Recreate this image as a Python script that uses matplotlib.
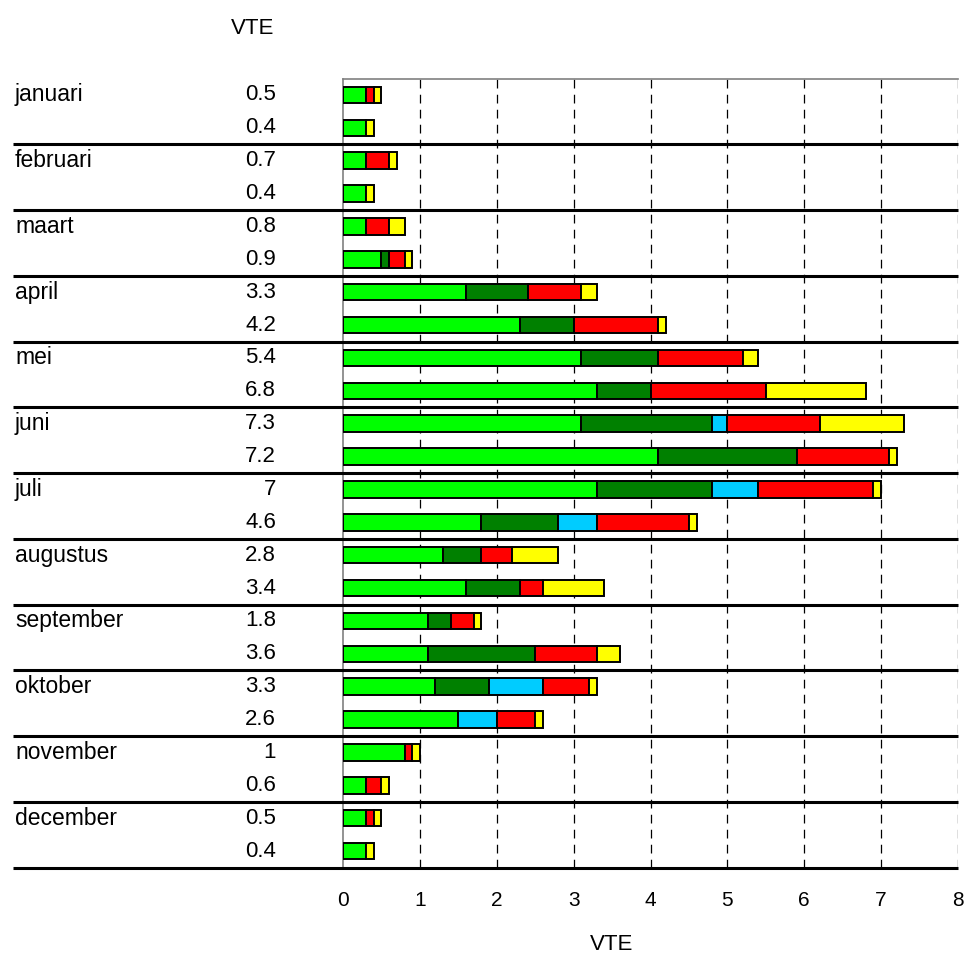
import numpy as np
import matplotlib
matplotlib.use("Agg")
import matplotlib.pyplot as plt
from matplotlib.transforms import blended_transform_factory

plt.rcParams['font.family'] = ['Liberation Sans', 'DejaVu Sans']

months = ["januari", "februari", "maart", "april", "mei", "juni", "juli",
          "augustus", "september", "oktober", "november", "december"]

# two rows per month; stacked segments in VTE
green = [0.3, 0.3, 0.3, 0.3, 0.3, 0.5, 1.6, 2.3, 3.1, 3.3, 3.1, 4.1,
         3.3, 1.8, 1.3, 1.6, 1.1, 1.1, 1.2, 1.5, 0.8, 0.3, 0.3, 0.3]
darkgreen = [0.0, 0.0, 0.0, 0.0, 0.0, 0.1, 0.8, 0.7, 1.0, 0.7, 1.7, 1.8,
             1.5, 1.0, 0.5, 0.7, 0.3, 1.4, 0.7, 0.0, 0.0, 0.0, 0.0, 0.0]
blue = [0.0, 0.0, 0.0, 0.0, 0.0, 0.0, 0.0, 0.0, 0.0, 0.0, 0.2, 0.0,
        0.6, 0.5, 0.0, 0.0, 0.0, 0.0, 0.7, 0.5, 0.0, 0.0, 0.0, 0.0]
red = [0.1, 0.0, 0.3, 0.0, 0.3, 0.2, 0.7, 1.1, 1.1, 1.5, 1.2, 1.2,
       1.5, 1.2, 0.4, 0.3, 0.3, 0.8, 0.6, 0.5, 0.1, 0.2, 0.1, 0.0]
yellow = [0.1, 0.1, 0.1, 0.1, 0.2, 0.1, 0.2, 0.1, 0.2, 1.3, 1.1, 0.1,
          0.1, 0.1, 0.6, 0.8, 0.1, 0.3, 0.1, 0.1, 0.1, 0.1, 0.1, 0.1]

series = [green, darkgreen, blue, red, yellow]
colors = ["#00FF00", "#008000", "#00CCFF", "#FF0000", "#FFFF00"]

x_ticks = [0, 1, 2, 3, 4, 5, 6, 7, 8]

W, H = 965, 960
fig = plt.figure(figsize=(W / 100, H / 100), dpi=100)
ax_left, ax_right = 343 / W, 958 / W
ax_top, ax_bot = 1 - 78.5 / H, 1 - 867.5 / H
ax = fig.add_axes([ax_left, ax_bot, ax_right - ax_left, ax_top - ax_bot])

n_rows = len(green)
rows = np.arange(n_rows)
data = np.array(series)
totals = data.sum(axis=0)

# dashed vertical grid
for xv in x_ticks[1:]:
    ax.axvline(xv, color="black", lw=0.9, ls=(0, (7, 5)), zorder=1)

left = np.zeros(n_rows)
for vals, col in zip(data, colors):
    mask = vals > 0
    ax.barh(rows[mask], vals[mask], left=left[mask], height=0.5,
            color=col, edgecolor="black", linewidth=1.4, zorder=3)
    left = left + vals

ax.set_xlim(0, 8)
ax.set_ylim(n_rows - 0.5, -0.5)
ax.set_xticks(x_ticks)
ax.set_xticklabels([str(t) for t in x_ticks], fontsize=15)
ax.tick_params(axis="x", length=0, pad=17)
ax.set_yticks([])

for s in ["right", "bottom"]:
    ax.spines[s].set_visible(False)
for s in ["left", "top"]:
    ax.spines[s].set_color("#808080")
    ax.spines[s].set_linewidth(1.2)

# separators between months, spanning the label columns too
trans = blended_transform_factory(fig.transFigure, ax.transData)
sep_x0 = 13 / W
for k in range(1, len(months) + 1):
    yv = 2 * k - 0.5
    ax.plot([sep_x0, ax_right], [yv, yv], transform=trans, color="black",
            lw=2.2, clip_on=False, zorder=4, solid_capstyle="butt")

# month names and totals
lab_trans = blended_transform_factory(fig.transFigure, ax.transData)
for i, m in enumerate(months):
    ax.text(15 / W, 2 * i, m, transform=lab_trans, ha="left", va="center",
            fontsize=16.5)
for r in rows:
    ax.text(276 / W, r, f"{round(totals[r], 1):g}", transform=lab_trans,
            ha="right", va="center", fontsize=16)

fig.text(253 / W, 1 - 28 / H, "VTE", ha="center", va="center", fontsize=16)
fig.text(612 / W, 1 - 945 / H, "VTE", ha="center", va="center", fontsize=16)

fig.savefig("out.png", dpi=100, facecolor="white")
